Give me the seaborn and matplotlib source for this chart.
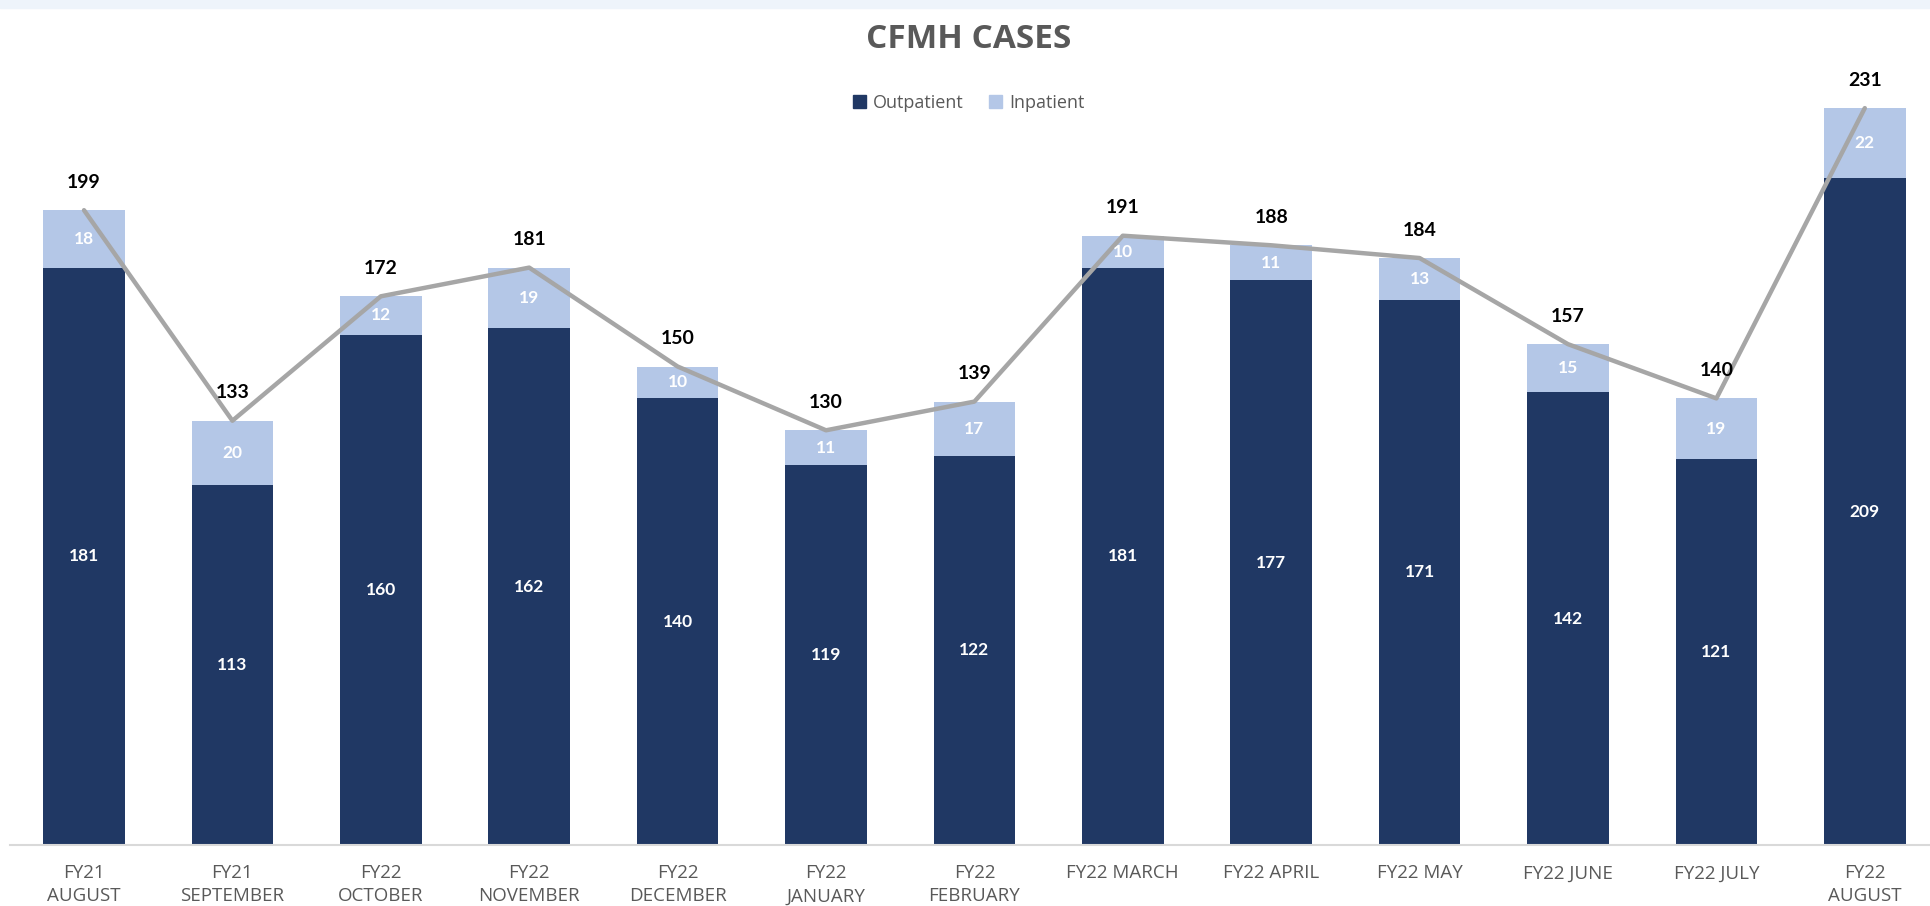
import numpy as np
import pandas as pd
import matplotlib
matplotlib.use("Agg")
import matplotlib.pyplot as plt
import seaborn as sns
from matplotlib.patches import Rectangle

months = ["FY21\nAUGUST", "FY21\nSEPTEMBER", "FY22\nOCTOBER", "FY22\nNOVEMBER",
          "FY22\nDECEMBER", "FY22\nJANUARY", "FY22\nFEBRUARY", "FY22 MARCH",
          "FY22 APRIL", "FY22 MAY", "FY22 JUNE", "FY22 JULY", "FY22\nAUGUST"]
outpatient = [181, 113, 160, 162, 140, 119, 122, 181, 177, 171, 142, 121, 209]
inpatient = [18, 20, 12, 19, 10, 11, 17, 10, 11, 13, 15, 19, 22]
totals = [199, 133, 172, 181, 150, 130, 139, 191, 188, 184, 157, 140, 231]

OUT_C = "#203864"
IN_C = "#B4C7E7"
LINE_C = "#A6A6A6"

sns.set_theme(style="white")
plt.rcParams['font.family'] = ['Lato', 'DejaVu Sans']

df = pd.DataFrame({"month": months, "out": outpatient, "inp": inpatient, "total": totals})

fig = plt.figure(figsize=(19.31, 9.06), dpi=100)
W, H = 1931, 906
ax_left, ax_right = 10, 1931
ax_bottom, ax_top = 845, 40
ax = fig.add_axes([ax_left / W, (H - ax_bottom) / H, (ax_right - ax_left) / W, (ax_bottom - ax_top) / H])

df["stack"] = df["out"] + df["inp"]
sns.barplot(data=df, x="month", y="stack", color=IN_C, width=0.55, ax=ax, saturation=1,
            order=months, linewidth=0, edgecolor="none")
sns.barplot(data=df, x="month", y="out", color=OUT_C, width=0.55, ax=ax, saturation=1,
            order=months, linewidth=0, edgecolor="none")

xs = np.arange(len(months))
ax.plot(xs, totals, color=LINE_C, lw=3.2, zorder=5, solid_capstyle="round")

px_per_unit = 3.19
ax.set_ylim(0, (ax_bottom - ax_top) / px_per_unit)
spacing = 148.4
first_center = 84
ax.set_xlim(-(first_center - ax_left) / spacing, (ax_right - first_center) / spacing)

for i in range(len(months)):
    ax.text(i, outpatient[i] / 2, str(outpatient[i]), ha="center", va="center",
            color="white", fontsize=12.5, fontweight="bold", zorder=6)
    ax.text(i, outpatient[i] + inpatient[i] / 2, str(inpatient[i]), ha="center", va="center",
            color="white", fontsize=12.5, fontweight="bold", zorder=6)
    ax.annotate(str(totals[i]), (i, totals[i]), xytext=(0, 14), textcoords="offset points",
                ha="center", va="bottom", color="black", fontsize=14, fontweight="bold", zorder=7)

ax.set_xlabel("")
ax.set_ylabel("")
ax.set_yticks([])
for s in ["top", "right", "left"]:
    ax.spines[s].set_visible(False)
ax.spines["bottom"].set_color("#D9D9D9")
ax.spines["bottom"].set_linewidth(1.5)
ax.tick_params(axis="x", length=0, pad=14)
ax.set_xticks(xs)
ax.set_xticklabels(months, fontsize=13.5, color="#595959", linespacing=1.35, va="top",
                   family=["Open Sans", "DejaVu Sans"])

fig.text(969 / W, 1 - 39 / H, "CFMH CASES", ha="center", va="center", fontsize=24,
         fontweight="bold", color="#595959", family=["Open Sans", "DejaVu Sans"])

handles = [Rectangle((0, 0), 1, 1, color=OUT_C), Rectangle((0, 0), 1, 1, color=IN_C)]
fig.legend(handles, ["Outpatient", "Inpatient"], loc="center", bbox_to_anchor=(969 / W, 1 - 103 / H),
           ncol=2, frameon=False, prop={"family": ["Open Sans", "DejaVu Sans"], "size": 13},
           handlelength=0.7, handleheight=0.7, handletextpad=0.4, columnspacing=1.4,
           labelcolor="#595959")

fig.patches.append(Rectangle((0, 1 - 8 / H), 1, 8 / H, transform=fig.transFigure,
                             color="#EEF4FB", zorder=0))

fig.savefig("out.png", dpi=100)
